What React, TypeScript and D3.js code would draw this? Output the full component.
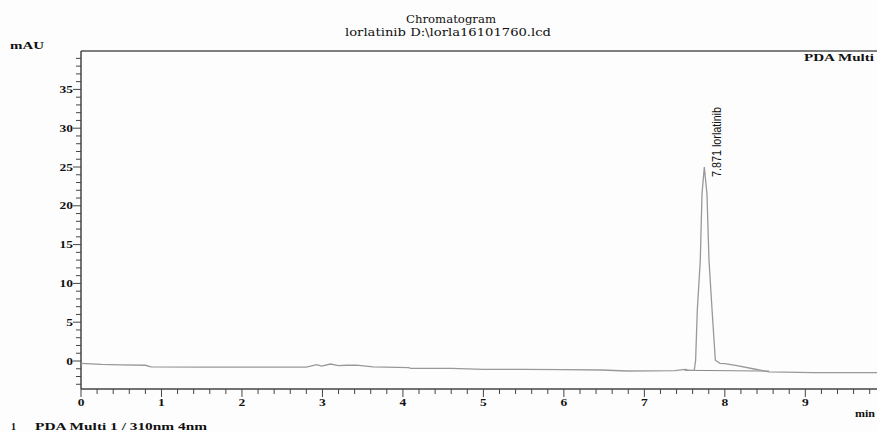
import React from 'react';
import * as d3 from 'd3';

// retention time (min) and absorbance (mAU)
const times = [0, 0.25, 0.5, 0.8, 0.87, 1.5, 2.2, 2.8, 2.93, 2.99, 3.1, 3.2, 3.3, 3.42, 3.63, 4.07, 4.1, 4.6, 5.0, 5.5, 6.0, 6.46, 6.79, 7.38, 7.48, 7.51, 7.55, 7.62, 7.637, 7.658, 7.695, 7.716, 7.745, 7.778, 7.803, 7.841, 7.882, 7.94, 8.0, 8.15, 8.35, 8.55, 9.1, 9.95];
const absorbance = [-0.3, -0.43, -0.5, -0.55, -0.77, -0.8, -0.8, -0.8, -0.47, -0.65, -0.39, -0.6, -0.55, -0.52, -0.77, -0.86, -0.94, -0.94, -1.07, -1.07, -1.1, -1.16, -1.29, -1.25, -1.1, -1.07, -1.2, -1.2, 0.1, 6.6, 13, 21.5, 25.0, 21.5, 13, 6.6, 0.1, -0.3, -0.35, -0.6, -1.0, -1.4, -1.5, -1.5];

// integration baseline under the peak
const baseTimes = [7.5, 8.55];
const baseValues = [-1.2, -1.3];

const peakTime = 7.745;
const peakHeight = 25.0;
const peakLabel = '7.871 lorlatinib';

const xMajor = [0, 1, 2, 3, 4, 5, 6, 7, 8, 9];
const yMajor = [0, 5, 10, 15, 20, 25, 30, 35];

const serif = '"Liberation Serif", "DejaVu Serif", "Times New Roman", serif';
const titleFont = '"DejaVu Serif", "Liberation Serif", serif';

export default function App() {
  const W = 877, H = 432;
  const x = d3.scaleLinear().domain([0, 10]).range([81, 885.8]);
  const y = d3.scaleLinear().domain([0, 40]).range([361, 50.6]);
  const yBottom = 389;
  const yTop = 51;

  const pts = times.map((t, i) => [t, absorbance[i]] as [number, number]);
  const line = d3.line<[number, number]>().x(d => x(d[0])).y(d => y(d[1]));
  const base = baseTimes.map((t, i) => [t, baseValues[i]] as [number, number]);

  const xMinor = d3.range(0, 50).map(i => i * 0.2).filter(t => Math.abs(t - Math.round(t)) > 1e-6);
  const yMinor = d3.range(-3, 40).filter(v => v % 5 !== 0);

  const stretched = (txt: string, px: number, py: number, sx: number, size: number, anchor: string) => (
    <text transform={`translate(${px},${py}) scale(${sx},1)`} fontFamily={serif} fontWeight="bold"
      fontSize={size} textAnchor={anchor} fill="#111">{txt}</text>
  );

  return (
    <svg width={W} height={H} style={{ position: 'absolute', left: 0, top: 0, background: '#fdfdfd' }}>
      {/* titles */}
      <text x={451} y={23} fontFamily={titleFont} fontSize={11} textAnchor="middle" fill="#111"
        textLength={90} lengthAdjust="spacingAndGlyphs">Chromatogram</text>
      <text x={448} y={36} fontFamily={titleFont} fontSize={11} textAnchor="middle" fill="#111"
        textLength={206} lengthAdjust="spacingAndGlyphs">lorlatinib D:\lorla16101760.lcd</text>
      <text x={10} y={49} fontFamily={serif} fontWeight="bold" fontSize={10} fill="#111"
        textLength={34} lengthAdjust="spacingAndGlyphs">mAU</text>
      <text x={804} y={61} fontFamily={serif} fontWeight="bold" fontSize={10} fill="#111"
        textLength={70} lengthAdjust="spacingAndGlyphs">PDA Multi</text>

      {/* frame */}
      <line x1={81} x2={W} y1={yTop} y2={yTop} stroke="#555" strokeWidth={1.5} />
      <line x1={81} x2={81} y1={yTop} y2={yBottom} stroke="#444" strokeWidth={1.5} />
      <line x1={81} x2={W} y1={yBottom} y2={yBottom} stroke="#444" strokeWidth={1.5} />

      {/* y ticks */}
      {yMinor.map(v => (
        <line key={'ym' + v} x1={76} x2={81} y1={y(v)} y2={y(v)} stroke="#444" strokeWidth={1} />
      ))}
      {yMajor.map(v => (
        <g key={'yM' + v}>
          <line x1={73} x2={81} y1={y(v)} y2={y(v)} stroke="#444" strokeWidth={1} />
          {stretched(String(v), 73, y(v) + 3.5, 1.35, 10, 'end')}
        </g>
      ))}

      {/* x ticks */}
      {xMinor.map(t => (
        <line key={'xm' + t} x1={x(t)} x2={x(t)} y1={yBottom} y2={yBottom + 5} stroke="#444" strokeWidth={1} />
      ))}
      {xMajor.map(t => (
        <g key={'xM' + t}>
          <line x1={x(t)} x2={x(t)} y1={yBottom} y2={yBottom + 8} stroke="#444" strokeWidth={1} />
          {stretched(String(t), x(t), 406, 1.35, 10, 'middle')}
        </g>
      ))}
      <text x={855} y={417} fontFamily={serif} fontWeight="bold" fontSize={10} fill="#111"
        textLength={20} lengthAdjust="spacingAndGlyphs">min</text>

      {/* trace */}
      <path d={line(base) || ''} fill="none" stroke="#888" strokeWidth={1} />
      <path d={line(pts) || ''} fill="none" stroke="#999" strokeWidth={1.3} />

      {/* peak label */}
      <text transform={`translate(${x(peakTime) + 17},${y(peakHeight) + 10}) rotate(-90)`}
        fontFamily='"Liberation Sans Narrow", "Liberation Sans", sans-serif' fontSize={12} fill="#111"
        textLength={70} lengthAdjust="spacingAndGlyphs">{peakLabel}</text>

      {/* legend */}
      <text x={11} y={430} fontFamily={serif} fontWeight="bold" fontSize={10} fill="#111">1</text>
      <text x={35} y={430} fontFamily={serif} fontWeight="bold" fontSize={10} fill="#111"
        textLength={172} lengthAdjust="spacingAndGlyphs">PDA Multi 1 / 310nm 4nm</text>
    </svg>
  );
}
